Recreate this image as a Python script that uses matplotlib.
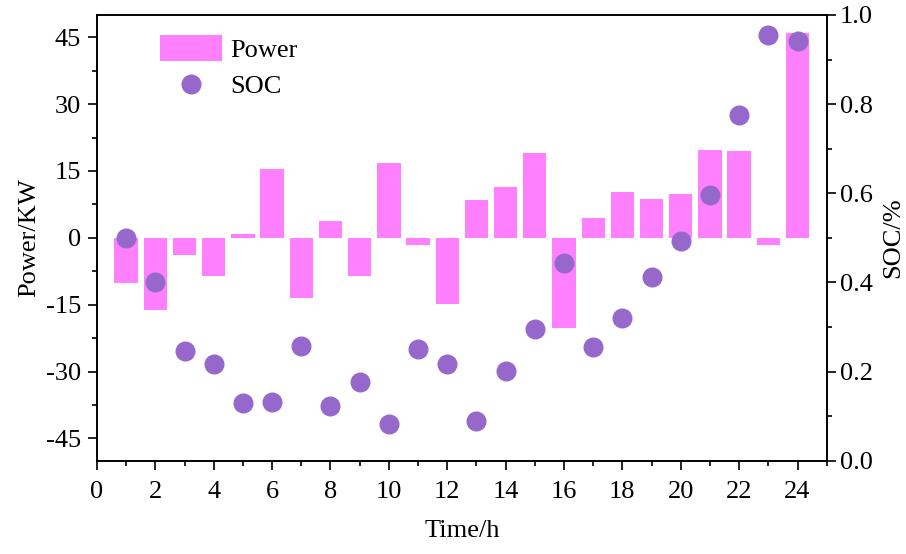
import numpy as np
import matplotlib
matplotlib.use('Agg')
import matplotlib.pyplot as plt
from matplotlib.ticker import MultipleLocator

plt.rcParams['font.family'] = ['Liberation Serif', 'DejaVu Serif']
plt.rcParams['axes.unicode_minus'] = False

# Hourly data
hours = list(range(1, 25))
power = [-10.2, -16.3, -3.9, -8.5, 0.8, 15.4, -13.5, 3.8, -8.5, 16.8, -1.6, -14.8,
         8.4, 11.5, 19.1, -20.3, 4.5, 10.3, 8.8, 9.9, 19.6, 19.5, -1.5, 45.9]
soc = [0.50, 0.40, 0.245, 0.216, 0.129, 0.131, 0.257, 0.123, 0.177, 0.082, 0.251, 0.216,
       0.090, 0.202, 0.295, 0.443, 0.256, 0.320, 0.412, 0.492, 0.597, 0.776, 0.954, 0.942]

bar_color = '#ff80ff'
dot_color = '#9668cc'
fs = 19

fig = plt.figure(figsize=(9.06, 5.54), dpi=100)
ax = fig.add_axes([0.107, 0.1684, 0.8055, 0.8046])
ax2 = ax.twinx()

bars = ax.bar(hours, power, width=0.8, color=bar_color, label='Power')
dots = ax2.scatter(hours, soc, s=180, color=dot_color, label='SOC', zorder=3)

ax.set_xlim(0, 25)
ax.set_ylim(-50, 50)
ax2.set_ylim(0, 1)

ax.xaxis.set_major_locator(MultipleLocator(2))
ax.xaxis.set_minor_locator(MultipleLocator(1))
ax.yaxis.set_major_locator(MultipleLocator(15))
ax.yaxis.set_minor_locator(MultipleLocator(7.5))
ax2.yaxis.set_major_locator(MultipleLocator(0.2))
ax2.yaxis.set_minor_locator(MultipleLocator(0.1))
ax2.yaxis.set_major_formatter(plt.FormatStrFormatter('%.1f'))

for a in (ax, ax2):
    a.tick_params(which='major', direction='out', length=6.5, width=1.2, labelsize=fs)
    a.tick_params(which='minor', direction='out', length=3.5, width=1.2)
    for s in a.spines.values():
        s.set_linewidth(1.2)
ax.tick_params(axis='x', which='major', pad=8)
ax.tick_params(axis='y', which='major', pad=5)
ax2.tick_params(axis='y', which='major', pad=3)

ax.set_xlabel('Time/h', fontsize=fs, labelpad=12)
ax.set_ylabel('Power/KW', fontsize=fs, labelpad=4)
ax2.set_ylabel('SOC/%', fontsize=fs, labelpad=7)

ax2.legend([bars, dots], ['Power', 'SOC'], loc='upper left', bbox_to_anchor=(0.087, 0.955),
           frameon=False, fontsize=fs, handlelength=2.34, handleheight=1.16,
           labelspacing=0.35, handletextpad=0.3, borderaxespad=0, borderpad=0)

fig.savefig('out.png', dpi=100)
